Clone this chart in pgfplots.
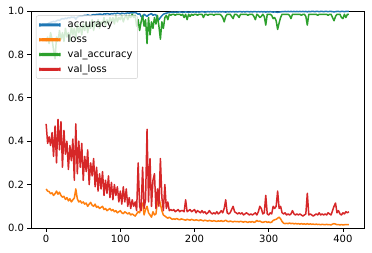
\documentclass[border=0pt]{standalone}
\usepackage{pgfplots}
\usepackage{pgfplotstable}
\usepackage{fontspec}
\setmainfont{DejaVu Sans}
\pgfplotsset{compat=1.18}
\definecolor{tabblue}{HTML}{1F77B4}
\definecolor{taborange}{HTML}{FF7F0E}
\definecolor{tabgreen}{HTML}{2CA02C}
\definecolor{tabred}{HTML}{D62728}
\pgfplotstableread{
x acc loss vacc vloss
0 0.935 0.180 0.86 0.48
2 0.940 0.170 0.88 0.39
4 0.945 0.168 0.85 0.42
6 0.948 0.158 0.90 0.38
8 0.950 0.162 0.87 0.44
10 0.952 0.150 0.82 0.33
12 0.950 0.158 0.78 0.47
14 0.955 0.170 0.88 0.30
16 0.958 0.156 0.86 0.50
18 0.956 0.165 0.91 0.36
20 0.962 0.150 0.87 0.49
22 0.965 0.142 0.90 0.28
24 0.963 0.146 0.86 0.45
26 0.967 0.132 0.92 0.34
28 0.965 0.140 0.88 0.40
30 0.970 0.125 0.90 0.27
32 0.968 0.135 0.86 0.38
34 0.972 0.120 0.93 0.31
36 0.970 0.130 0.89 0.41
38 0.972 0.138 0.92 0.22
40 0.962 0.180 0.87 0.48
42 0.972 0.135 0.94 0.25
44 0.975 0.120 0.90 0.40
46 0.977 0.125 0.93 0.28
48 0.976 0.115 0.89 0.39
50 0.978 0.120 0.94 0.22
52 0.980 0.110 0.91 0.33
54 0.979 0.115 0.95 0.26
56 0.982 0.100 0.90 0.36
58 0.980 0.110 0.94 0.20
60 0.978 0.118 0.92 0.30
62 0.982 0.105 0.96 0.24
64 0.984 0.100 0.91 0.32
66 0.982 0.110 0.95 0.19
68 0.985 0.095 0.93 0.28
70 0.984 0.100 0.96 0.17
72 0.986 0.090 0.92 0.25
74 0.985 0.095 0.95 0.18
76 0.983 0.100 0.94 0.26
78 0.987 0.085 0.97 0.15
80 0.986 0.090 0.93 0.22
82 0.988 0.080 0.96 0.16
84 0.987 0.085 0.94 0.24
86 0.985 0.090 0.97 0.14
88 0.988 0.080 0.95 0.21
90 0.987 0.085 0.97 0.13
92 0.989 0.075 0.94 0.20
94 0.988 0.080 0.98 0.15
96 0.990 0.070 0.95 0.19
98 0.989 0.075 0.97 0.12
100 0.987 0.080 0.96 0.17
102 0.990 0.070 0.98 0.11
104 0.989 0.066 0.95 0.19
106 0.988 0.075 0.97 0.12
108 0.990 0.070 0.98 0.18
110 0.991 0.065 0.96 0.10
112 0.990 0.070 0.98 0.14
114 0.992 0.060 0.97 0.09
116 0.991 0.065 0.985 0.13
118 0.992 0.060 0.97 0.10
120 0.993 0.055 0.98 0.12
122 0.990 0.065 0.93 0.08
124 0.985 0.075 0.96 0.30
126 0.988 0.070 0.91 0.10
128 0.975 0.100 0.95 0.08
130 0.970 0.115 0.98 0.28
132 0.985 0.060 0.93 0.09
134 0.980 0.085 0.96 0.13
136 0.975 0.100 0.85 0.455
138 0.982 0.070 0.97 0.12
140 0.985 0.060 0.89 0.32
142 0.988 0.050 0.95 0.10
144 0.980 0.075 0.92 0.22
146 0.984 0.060 0.97 0.25
148 0.982 0.065 0.94 0.09
150 0.965 0.120 0.98 0.18
152 0.960 0.140 0.93 0.10
154 0.970 0.110 0.87 0.32
156 0.978 0.080 0.95 0.14
158 0.985 0.060 0.92 0.08
160 0.988 0.055 0.97 0.20
162 0.990 0.050 0.98 0.09
164 0.992 0.045 0.96 0.12
166 0.993 0.050 0.985 0.08
168 0.994 0.045 0.98 0.085
170 0.995 0.040 0.985 0.08
172 0.994 0.042 0.985 0.085
174 0.995 0.040 0.98 0.075
176 0.994 0.044 0.985 0.08
178 0.995 0.040 0.985 0.085
180 0.996 0.038 0.985 0.075
182 0.995 0.042 0.98 0.08
184 0.994 0.040 0.985 0.08
186 0.995 0.038 0.97 0.075
188 0.996 0.036 0.985 0.13
190 0.995 0.040 0.96 0.075
192 0.994 0.038 0.985 0.08
194 0.995 0.036 0.975 0.085
196 0.996 0.040 0.985 0.075
198 0.995 0.037 0.98 0.08
200 0.996 0.035 0.985 0.085
202 0.995 0.038 0.985 0.07
204 0.996 0.036 0.98 0.08
206 0.995 0.034 0.985 0.075
208 0.996 0.038 0.985 0.07
210 0.997 0.035 0.985 0.08
212 0.996 0.033 0.97 0.07
214 0.995 0.036 0.985 0.075
216 0.996 0.034 0.985 0.065
218 0.997 0.032 0.98 0.07
220 0.996 0.035 0.985 0.08
222 0.997 0.033 0.985 0.07
224 0.996 0.031 0.985 0.065
226 0.997 0.034 0.98 0.07
228 0.996 0.032 0.985 0.065
230 0.997 0.030 0.985 0.075
232 0.996 0.033 0.985 0.065
234 0.997 0.031 0.985 0.07
236 0.996 0.034 0.98 0.08
238 0.997 0.030 0.97 0.07
240 0.996 0.032 0.95 0.09
242 0.995 0.036 0.975 0.13
244 0.997 0.031 0.985 0.07
246 0.996 0.029 0.985 0.065
248 0.997 0.032 0.985 0.07
250 0.996 0.030 0.975 0.085
252 0.997 0.028 0.965 0.10
254 0.996 0.031 0.985 0.075
256 0.997 0.029 0.985 0.07
258 0.996 0.030 0.98 0.065
260 0.997 0.028 0.97 0.07
262 0.997 0.031 0.985 0.065
264 0.996 0.029 0.985 0.07
266 0.997 0.027 0.985 0.06
268 0.996 0.030 0.985 0.065
270 0.997 0.028 0.985 0.07
272 0.997 0.026 0.98 0.065
274 0.996 0.029 0.985 0.06
276 0.997 0.027 0.985 0.065
278 0.996 0.030 0.985 0.06
280 0.997 0.026 0.975 0.065
282 0.997 0.028 0.96 0.07
284 0.996 0.035 0.985 0.06
286 0.997 0.030 0.98 0.075
288 0.996 0.032 0.97 0.10
290 0.997 0.028 0.975 0.09
292 0.996 0.026 0.985 0.065
294 0.997 0.028 0.975 0.07
296 0.995 0.030 0.935 0.15
298 0.997 0.026 0.985 0.065
300 0.996 0.028 0.985 0.06
302 0.997 0.025 0.985 0.07
304 0.996 0.027 0.98 0.065
306 0.995 0.035 0.965 0.10
308 0.996 0.038 0.97 0.09
310 0.995 0.040 0.955 0.10
312 0.994 0.045 0.915 0.17
314 0.995 0.050 0.945 0.09
316 0.996 0.042 0.97 0.10
318 0.997 0.030 0.985 0.07
320 0.997 0.022 0.985 0.065
322 0.998 0.020 0.985 0.07
324 0.997 0.022 0.985 0.06
326 0.998 0.020 0.985 0.065
328 0.997 0.023 0.98 0.06
330 0.998 0.020 0.965 0.065
332 0.997 0.022 0.985 0.08
334 0.998 0.019 0.985 0.065
336 0.997 0.021 0.985 0.06
338 0.998 0.019 0.985 0.065
340 0.997 0.020 0.985 0.06
342 0.998 0.018 0.985 0.065
344 0.997 0.020 0.98 0.06
346 0.998 0.018 0.985 0.055
348 0.997 0.019 0.985 0.06
350 0.998 0.017 0.975 0.065
352 0.996 0.020 0.935 0.16
354 0.998 0.017 0.985 0.06
356 0.997 0.019 0.985 0.065
358 0.998 0.017 0.985 0.06
360 0.998 0.018 0.985 0.055
362 0.997 0.016 0.985 0.06
364 0.998 0.018 0.985 0.065
366 0.998 0.016 0.98 0.06
368 0.997 0.017 0.985 0.07
370 0.998 0.015 0.985 0.06
372 0.998 0.017 0.985 0.065
374 0.997 0.016 0.985 0.06
376 0.998 0.015 0.985 0.065
378 0.998 0.017 0.985 0.06
380 0.997 0.015 0.98 0.07
382 0.998 0.016 0.985 0.065
384 0.998 0.014 0.985 0.06
386 0.997 0.018 0.97 0.08
388 0.996 0.020 0.955 0.10
390 0.997 0.018 0.975 0.115
392 0.998 0.015 0.985 0.07
394 0.998 0.016 0.985 0.08
396 0.997 0.014 0.985 0.065
398 0.998 0.016 0.97 0.06
400 0.998 0.014 0.965 0.07
402 0.997 0.015 0.985 0.065
404 0.998 0.016 0.97 0.075
406 0.998 0.015 0.985 0.07
408 0.998 0.016 0.985 0.075
}\hist
\begin{document}
\begin{tikzpicture}
\path (-31pt,-24pt) rectangle (341pt,228pt);
\begin{axis}[
  at={(0,0)}, anchor=south west,
  scale only axis, width=333pt, height=217pt,
  xmin=-20.4, xmax=428.4, ymin=0, ymax=1,
  xtick={0,100,200,300,400},
  ytick={0,0.2,0.4,0.6,0.8,1.0},
  tick pos=left, tick align=outside,
  major tick length=3.5pt,
  every tick/.style={black, line width=0.8pt},
  axis line style={line width=0.8pt},
  /pgf/number format/assume math mode=true,
  yticklabel style={/pgf/number format/fixed, /pgf/number format/fixed zerofill, /pgf/number format/precision=1, font=\fontsize{10}{12}\selectfont},
  xticklabel style={font=\fontsize{10}{12}\selectfont},
  legend cell align=left,
  legend image code/.code={\fill[#1, fill opacity=1] (0pt,-0.8pt) rectangle (20pt,0.8pt);},
  legend style={at={(0,1)}, anchor=north west, xshift=5pt, yshift=-4.5pt,
    fill=white, fill opacity=0.8, draw opacity=1, text opacity=1,
    draw=black!20, rounded corners=2pt, inner xsep=3pt, inner ysep=4pt, row sep=4.3pt,
    nodes={text height=7.5pt, text depth=2pt, inner ysep=0.5pt, inner xsep=2pt},
    /tikz/every odd column/.append style={column sep=5pt},
    font=\fontsize{10}{12}\selectfont},
  every axis plot/.append style={line width=1.5pt, line join=round},
]
\addplot[tabblue, no markers] table[x=x, y=acc] {\hist};
\addlegendentry{accuracy}
\addplot[taborange, no markers] table[x=x, y=loss] {\hist};
\addlegendentry{loss}
\addplot[tabgreen, no markers] table[x=x, y=vacc] {\hist};
\addlegendentry{val\_accuracy}
\addplot[tabred, no markers] table[x=x, y=vloss] {\hist};
\addlegendentry{val\_loss}
\end{axis}
\end{tikzpicture}
\end{document}
